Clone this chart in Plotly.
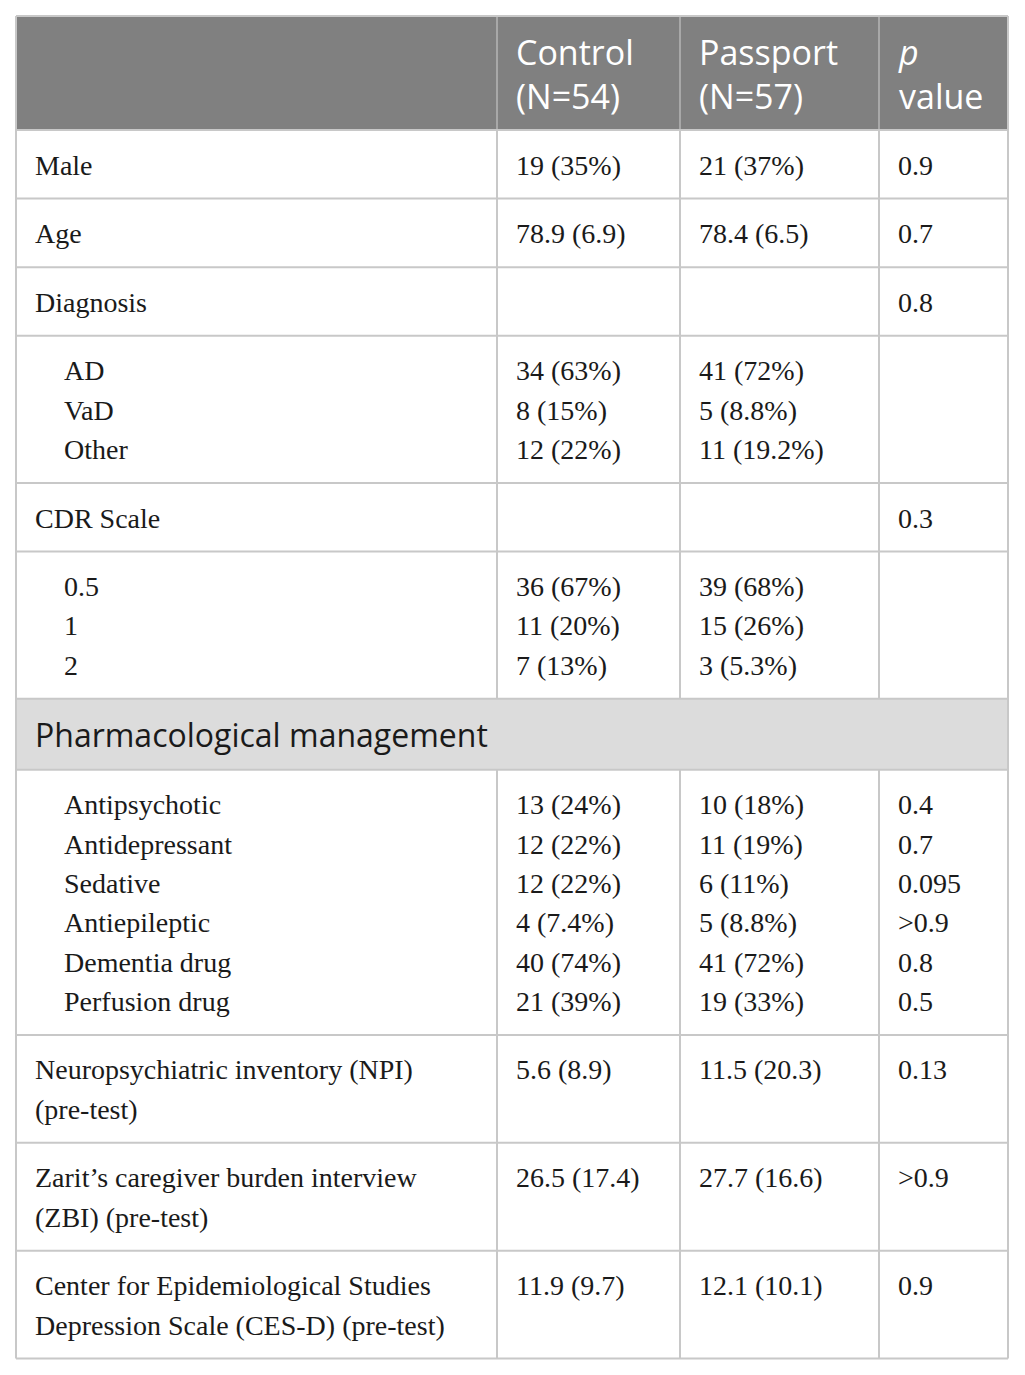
import plotly.graph_objects as go

# table content, one entry per body row; each entry is a list of text lines
row_labels = [
    ["Male"],
    ["Age"],
    ["Diagnosis"],
    ["AD", "VaD", "Other"],
    ["CDR Scale"],
    ["0.5", "1", "2"],
    ["Pharmacological management"],
    ["Antipsychotic", "Antidepressant", "Sedative", "Antiepileptic",
     "Dementia drug", "Perfusion drug"],
    ["Neuropsychiatric inventory (NPI)", "(pre-test)"],
    ["Zarit\u2019s caregiver burden interview", "(ZBI) (pre-test)"],
    ["Center for Epidemiological Studies", "Depression Scale (CES-D) (pre-test)"],
]
control = [
    ["19 (35%)"], ["78.9 (6.9)"], [], ["34 (63%)", "8 (15%)", "12 (22%)"], [],
    ["36 (67%)", "11 (20%)", "7 (13%)"], [],
    ["13 (24%)", "12 (22%)", "12 (22%)", "4 (7.4%)", "40 (74%)", "21 (39%)"],
    ["5.6 (8.9)"], ["26.5 (17.4)"], ["11.9 (9.7)"],
]
passport = [
    ["21 (37%)"], ["78.4 (6.5)"], [], ["41 (72%)", "5 (8.8%)", "11 (19.2%)"], [],
    ["39 (68%)", "15 (26%)", "3 (5.3%)"], [],
    ["10 (18%)", "11 (19%)", "6 (11%)", "5 (8.8%)", "41 (72%)", "19 (33%)"],
    ["11.5 (20.3)"], ["27.7 (16.6)"], ["12.1 (10.1)"],
]
p_values = [
    ["0.9"], ["0.7"], ["0.8"], [], ["0.3"], [], [],
    ["0.4", "0.7", "0.095", ">0.9", "0.8", "0.5"],
    ["0.13"], [">0.9"], ["0.9"],
]
indented = [False, False, False, True, False, True, False, True, False, False, False]
section_rows = [6]
header_text = ["Control<br>(N=54)", "Passport<br>(N=57)", "<i>p</i><br>value"]

# geometry (pixels of the page; the page body adds an 8px offset)
W, H = 1025, 1375
page_offset = 8
col_edges = [16, 497, 680, 879, 1008]
header_top, header_bottom = 16, 130
row_base, line_step = 68.6, 39.3
section_height = 71
pad_x, indent_x = 17, 29

border = "#c8c8c8"
header_fill = "#808080"
section_fill = "#dcdcdc"
text_color = "#1a1a1a"
serif = "Liberation Serif"
sans = "Open Sans"

fig = go.Figure()
shapes = []
annotations = []

# header
shapes.append(dict(type="rect", x0=col_edges[0], x1=col_edges[-1], y0=header_top,
                   y1=header_bottom, fillcolor=header_fill, line=dict(width=0),
                   layer="below"))
for c, txt in enumerate(header_text):
    annotations.append(dict(x=col_edges[c + 1] + pad_x,
                            y=(header_top + header_bottom) / 2 + 1, text=txt,
                            xanchor="left", yanchor="middle", align="left",
                            showarrow=False,
                            font=dict(family=sans, size=34, color="white")))
for xe in col_edges[1:-1]:
    shapes.append(dict(type="line", x0=xe, x1=xe, y0=header_top, y1=header_bottom,
                       line=dict(color="#a8a8a8", width=2)))

# body rows
y = header_bottom
row_tops = []
for i, lines in enumerate(row_labels):
    if i in section_rows:
        h = section_height
    else:
        n = max(len(lines), len(control[i]), len(passport[i]), len(p_values[i]), 1)
        h = row_base + (n - 1) * line_step
    row_tops.append((y, y + h))
    if i in section_rows:
        shapes.append(dict(type="rect", x0=col_edges[0], x1=col_edges[-1], y0=y,
                           y1=y + h, fillcolor=section_fill, line=dict(width=0),
                           layer="below"))
        annotations.append(dict(x=col_edges[0] + pad_x, y=y + h / 2, text=lines[0],
                                xanchor="left", yanchor="middle", showarrow=False,
                                font=dict(family=sans, size=32, color=text_color)))
    else:
        cols = [lines, control[i], passport[i], p_values[i]]
        for c, cell in enumerate(cols):
            x0 = col_edges[c] + pad_x + (indent_x if (c == 0 and indented[i]) else 0)
            for k, txt in enumerate(cell):
                annotations.append(dict(x=x0, y=y + 35 + k * line_step, text=txt,
                                        xanchor="left", yanchor="middle",
                                        showarrow=False,
                                        font=dict(family=serif, size=28,
                                                  color=text_color)))
        for xe in col_edges[1:-1]:
            shapes.append(dict(type="line", x0=xe, x1=xe, y0=y, y1=y + h,
                               line=dict(color=border, width=2)))
    y += h

# horizontal rules and outer frame
for top, bottom in row_tops:
    shapes.append(dict(type="line", x0=col_edges[0], x1=col_edges[-1], y0=bottom,
                       y1=bottom, line=dict(color=border, width=2)))
for yy in (header_top, header_bottom):
    shapes.append(dict(type="line", x0=col_edges[0], x1=col_edges[-1], y0=yy,
                       y1=yy, line=dict(color=border, width=2)))
for xe in (col_edges[0], col_edges[-1]):
    shapes.append(dict(type="line", x0=xe, x1=xe, y0=header_top, y1=y,
                       line=dict(color=border, width=2)))

fig.update_layout(
    width=W, height=H,
    margin=dict(l=0, r=0, t=0, b=0),
    paper_bgcolor="white", plot_bgcolor="white",
    shapes=shapes, annotations=annotations,
    showlegend=False,
    xaxis=dict(range=[page_offset, W + page_offset], visible=False, fixedrange=True),
    yaxis=dict(range=[H + page_offset, page_offset], visible=False, fixedrange=True),
)

fig.write_html("out.html")
